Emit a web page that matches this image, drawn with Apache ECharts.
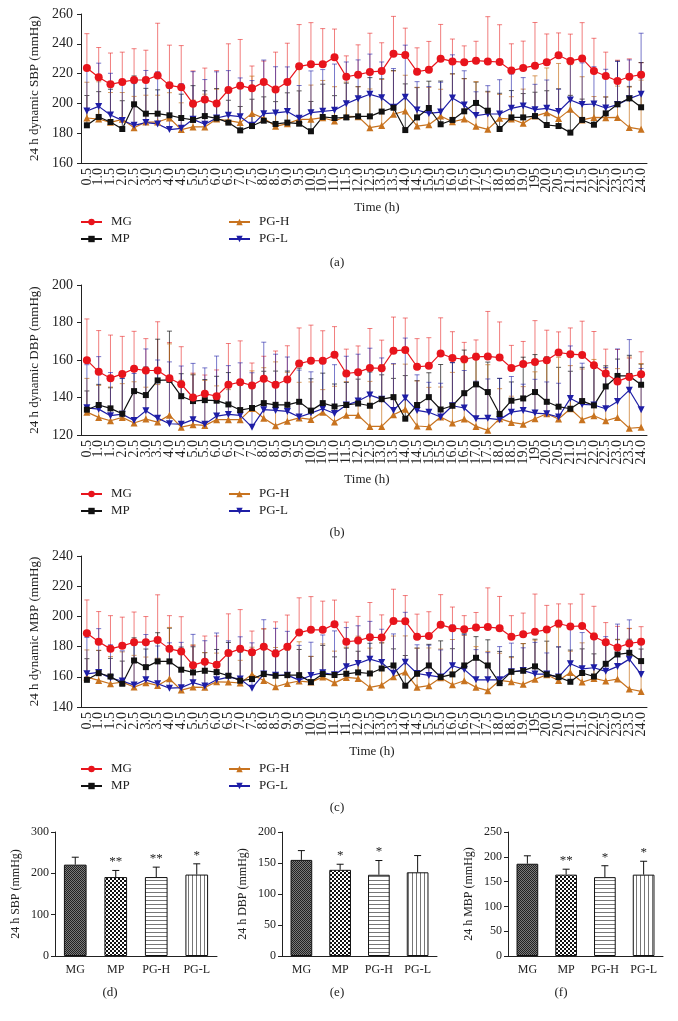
<!DOCTYPE html>
<html><head><meta charset="utf-8">
<script src="https://cdn.jsdelivr.net/npm/echarts@6/dist/echarts.min.js"></script>
<style>html,body{margin:0;padding:0;background:#fff}#c{width:678px;height:1021px}</style>
</head><body><div id="c"></div>
<script>
// ---------- DATA ----------
const times = ['0.5','1.0','1.5','2.0','2.5','3.0','3.5','4.0','4.5','5.0','5.5','6.0','6.5','7.0','7.5','8.0','8.5','9.0','9.5','10.0','10.5','11.0','11.5','12.0','12.5','13.0','13.5','14.0','14.5','15.0','15.5','16.0','16.5','17.0','17.5','18.0','18.5','19.0','195','20.0','20.5','21.0','21.5','22.0','22.5','23.0','23.5','24.0'];
const groups = ['MG','MP','PG-H','PG-L'];

// (a) 24 h dynamic SBP: means and SD
const sbpMG = [223.8,217.5,212.8,214.4,215.7,215.7,218.8,212.1,210.8,199.8,202.7,200,209,211.9,210.1,214.4,209.4,214.4,224.9,226.2,226.2,230.9,217.9,219.3,221.1,221.7,233.4,232.5,221.3,222.6,230,228.2,227.6,228.7,228.2,227.8,222,223.8,225.3,227.6,232.3,228.5,230.2,221.7,218.4,215,217.9,219.3];
const sbpMGsd = [23,20,21,20,21,20,35,27,28,22,21,22,31,31,15,14,25,26,28,28,24,19,14,20,26,19,25,18,16,19,23,15,11,13,30,25,18,18,29,19,15,18,24,22,16,14,12,8];
const sbpMP = [185.3,190.9,187.5,182.8,199.4,193.1,193.1,192,190.2,188.9,191.5,190,187.1,181.9,184.8,188.4,186.2,187.1,186.4,181.3,190.9,190.2,190.6,191.3,191.3,194.5,197.1,182.1,190.6,196.9,186,188.9,194.7,200.3,195.1,182.8,190.6,190.6,191.5,185.5,184.8,180.4,188.9,185.7,193.3,199.4,203.4,197.4];
const sbpMPsd = [20,17,22,19,19,17,16,22,16,23,17,20,15,16,18,16,15,20,22,20,22,15,23,20,26,22,25,31,20,18,29,31,22,14,13,24,18,16,16,23,25,25,14,15,11,29,8,30];
const sbpPGH = [190.2,189.5,187.3,189.3,183.7,187.5,187.5,190.2,182.4,184.2,184.2,189.5,188.4,187.1,193.3,190,184.6,186.4,189.3,189.3,190.4,188.2,191.3,191.1,183.7,185.1,192.7,194.9,184.8,185.7,191.5,187.7,189.5,184.6,182.6,190,189.5,186.6,191.5,193.8,189.8,196,188.9,190.6,190.4,190.6,183.9,182.6];
const sbpPGHsd = [24,25,20,18,21,18,18,17,18,18,22,20,21,27,25,26,25,28,34,23,25,23,23,20,26,31,29,24,26,25,18,32,27,30,25,16,15,23,27,30,37,30,29,14,14,21,27,33];
const sbpPGL = [194.9,198,192.2,188.6,185.3,187.1,186.2,182.4,183.3,189.3,186,190.2,192,191.1,185.3,193.1,193.6,194.5,190,193.8,194.7,195.4,199.8,203.2,206.1,203.8,197.4,204.1,195.6,193.3,194.2,203.6,198.9,191.8,192.9,192.9,196.7,198.3,195.8,196.7,194.5,202.3,199.2,199.6,196.9,199.2,203.2,206.1];
const sbpPGLsd = [30,29,28,26,28,35,35,30,30,32,30,31,30,26,30,36,31,30,22,28,28,31,28,26,27,24,26,35,19,18,20,29,23,16,19,23,23,19,17,19,15,26,28,25,26,29,26,41];

// (b) 24 h dynamic DBP
const dbpMG = [159.9,153.7,150.3,152.6,155.3,154.4,154.4,150.3,147.1,140,142,140.7,146.8,148.2,146.4,150,146.8,149.6,158.1,159.6,159.6,162.8,152.8,153.5,155.8,155.6,164.9,165.4,156.4,156.9,163.5,161.1,160.4,161.7,161.9,161.3,155.8,157.9,159,159.9,164,163.1,162.7,157.2,152.8,148.6,151,152.4];
const dbpMGsd = [22,22,23,20,20,17,26,19,20,13,10,14,22,22,12,12,18,18,19,19,16,15,13,14,21,15,18,17,15,15,19,14,9,9,24,19,12,12,22,16,11,14,18,18,13,17,10,12];
const dbpMP = [133.5,136,134.2,131.3,143.4,141.3,149.1,149.4,140.7,138.1,138.6,138.3,136.3,133.3,134.4,137,136.1,136.1,137.7,133,137,135.2,136,136.8,135.6,139.1,140.2,128.7,136,140.2,133.6,135.6,142.3,147,142.9,131.2,138.3,139.5,142.9,137.7,135.1,134,138.1,135.8,145.9,151.5,151.5,146.8];
const dbpMPsd = [10,11,11,19,13,15,22,26,12,14,11,13,17,16,13,17,18,18,18,17,16,12,12,13,18,13,10,23,13,13,24,23,23,16,16,19,10,22,20,24,21,20,18,22,11,9,11,11];
const dbpPGH = [132.2,129.4,127.6,129.4,126.4,128.5,126.9,130.6,124.2,125.5,125.1,128.2,128.2,128.2,134.2,128.9,125,127.4,129.1,128.3,132.2,127,130.5,130.5,124.6,124.6,130.8,133.8,124.8,124.4,129.6,126.4,128.5,124.6,122.5,128.7,126.7,125.8,128.7,131.3,128.5,134,128.2,130.3,127.6,129.4,123.6,124.1];
const dbpPGHsd = [18,17,18,18,22,17,20,38,25,27,24,18,16,19,20,27,34,26,19,20,12,19,18,24,24,33,27,24,24,21,16,27,30,39,35,16,14,20,25,30,33,23,27,30,28,26,38,34];
const dbpPGL = [134.5,133.8,130.3,131.1,127.8,132.9,129,126,125.8,128.2,125.8,130.1,131,130.5,124.2,133.5,133.1,132.6,129.6,131.7,134,131.5,136,138.1,141.3,139.1,133.1,139.7,133.1,132.1,129.6,135.6,134.4,128.7,128.9,128.2,132.2,133.1,131.7,131.3,129.6,139.5,136.3,136,134,137.9,143.9,133.5];
const dbpPGLsd = [23,28,23,19,25,33,31,33,31,30,30,32,26,28,29,36,30,29,25,22,24,26,26,25,25,22,25,32,19,16,18,23,20,20,21,22,19,14,18,17,18,28,22,21,22,28,27,22];

// (c) 24 h dynamic MBP
const mbpMG = [188.9,183.2,178.5,180.5,182.9,182.9,184.3,178.5,176.8,167.7,170,168,175.7,178.5,176.3,179.9,175.4,179.9,189.3,191.1,191.1,194.8,183.2,184,186.2,186,197,196.8,186.5,187.1,194.4,192.2,191.5,192.6,192.9,192.2,186.5,188.2,189.8,191.3,195.3,193.3,193.7,186.7,182.9,179.4,182.1,183.2];
const mbpMGsd = [22,20,22,19,20,17,30,22,23,13,17,19,26,26,14,12,21,21,23,22,19,16,13,16,23,15,21,17,15,16,20,14,9,10,26,21,14,14,25,16,13,15,21,20,13,14,10,10];
const mbpMP = [158,162.4,160.2,155.4,170.8,166.4,170.2,170.2,164.7,162.9,164,163.1,160.7,157.4,158.5,161.8,160.7,161.1,161.1,156.5,161.8,161.2,162,162.9,162.2,165.5,167.5,154.1,162,167.5,159.8,161.6,167.5,172.6,167.5,155.8,163.3,164,166.9,161.6,159.8,156.7,162.5,160.2,168.6,174.8,175.9,170.4];
const mbpMPsd = [14,15,12,15,15,12,19,22,15,17,12,15,22,19,16,18,17,18,17,17,19,12,17,14,20,17,11,20,17,14,24,17,21,14,17,21,10,18,18,22,20,21,16,15,16,10,9,8];
const mbpPGH = [159.8,157.6,155.4,156.5,153.2,156.1,154.3,158.7,151.2,153.2,153,156.7,156.5,155.9,161.6,157.6,153.4,155.6,157.2,156.5,159.8,156,159.6,158.9,153,154.5,160,163.1,153,154.1,159.4,154.7,157.4,153,150.8,157.6,156.7,155,158.3,161.4,157.6,162.9,156.5,158.9,157.2,158.5,151.9,150.3];
const mbpPGHsd = [18,20,18,20,21,17,18,34,26,28,23,19,18,15,18,34,26,22,26,17,22,21,20,28,26,28,27,24,26,25,19,30,30,27,26,18,16,27,26,28,35,14,26,30,27,26,40,35];
const mbpPGL = [162,162.9,159.2,157.2,154.5,158,155.4,152.5,152.8,156.1,153.9,158,159.8,158.5,152.5,161.8,161.1,161.1,157.8,160.9,162.7,161.4,166.6,168.8,171.7,169.5,162.4,169.7,162.2,160.9,159.8,167.3,164.9,158,158,158,163.3,164.2,161.8,161.8,159.8,168.6,165.3,166,163.6,166.9,171.7,161.6];
const mbpPGLsd = [24,29,22,20,27,30,25,30,30,32,30,31,24,28,30,36,31,29,23,22,25,29,26,25,25,22,26,33,19,20,18,27,23,20,18,22,19,15,21,14,20,25,24,21,23,28,26,23];

// (d)(e)(f) 24 h averages
const barSBP = [221,191,191,197];
const barSBPsd = [18,16,24,26];
const barSBPstars = ['','**','**','*'];
const barDBP = [155,139,131,135];
const barDBPsd = [15,9,23,27];
const barDBPstars = ['','*','*',''];
const barMBP = [186,164,159,164];
const barMBPsd = [16,11,23,27];
const barMBPstars = ['','**','*','*'];

// ---------- STYLE ----------
const FONT = "'Liberation Serif','Times New Roman',serif";
const TXT = '#222';
const COL = {'MG':'#e8141c','MP':'#111111','PG-H':'#c8731f','PG-L':'#1e1ea6'};
const ERRCOL = {'MG':'rgba(232,40,40,0.6)','MP':'rgba(20,20,20,0.7)','PG-H':'rgba(200,115,31,0.7)','PG-L':'rgba(30,30,166,0.6)'};
const SYM = {'MG':['circle',8,0],'MP':['rect',6,0],'PG-H':['triangle',7,0],'PG-L':['triangle',7,180]};

const chart = echarts.init(document.getElementById('c'), null, {renderer:'canvas'});

const grids = [], xAxes = [], yAxes = [], series = [], legends = [];

function errRender(color, hw, starsArr){
  return function(params, api){
    const x = api.value(0), m = api.value(1), s = api.value(2);
    const p0 = api.coord([x, m]);
    const p1 = api.coord([x, m + s]);
    const ch = [
      {type:'line', shape:{x1:p0[0],y1:p0[1],x2:p1[0],y2:p1[1]}, style:{stroke:color,lineWidth:1}},
      {type:'line', shape:{x1:p1[0]-hw,y1:p1[1],x2:p1[0]+hw,y2:p1[1]}, style:{stroke:color,lineWidth:1}}
    ];
    if (starsArr && starsArr[params.dataIndex]) {
      ch.push({type:'text', style:{text:starsArr[params.dataIndex], x:p1[0], y:p1[1]-2, textAlign:'center', textVerticalAlign:'bottom', fontSize:13, fontFamily:FONT, fill:TXT}});
    }
    return {type:'group', children:ch};
  };
}

function addLineChart(gi, top, height, ymin, ymax, yname, means, sds, shiftX, legTop){
  grids.push({left:81, top:top, width:566, height:height, containLabel:false});
  xAxes.push({type:'category', gridIndex:gi, data:times, boundaryGap:true,
    axisLine:{lineStyle:{color:'#222',width:1}},
    axisTick:{alignWithLabel:true, length:4, lineStyle:{color:'#222'}},
    axisLabel:{rotate:90, interval:0, fontSize:14, fontFamily:FONT, color:TXT, margin:5},
    name:'Time (h)', nameLocation:'middle', nameGap:38,
    nameTextStyle:{fontSize:13, fontFamily:FONT, color:TXT, padding:[0,0,0,shiftX]}});
  yAxes.push({type:'value', gridIndex:gi, min:ymin, max:ymax, interval:20,
    axisLine:{show:true, lineStyle:{color:'#222',width:1}},
    axisTick:{show:true, length:4, lineStyle:{color:'#222'}},
    splitLine:{show:false},
    axisLabel:{fontSize:14, fontFamily:FONT, color:TXT, margin:8},
    name:yname, nameLocation:'middle', nameGap:33,
    nameTextStyle:{fontSize:13, fontFamily:FONT, color:TXT}});
  groups.forEach(g => {
    series.push({type:'custom', name:g+' SD', xAxisIndex:gi, yAxisIndex:gi, z:1, silent:true,
      data: means[g].map((m,i)=>[i, m, sds[g][i]]),
      encode:{x:0, y:1}, renderItem: errRender(ERRCOL[g], 2.5)});
  });
  ['PG-H','PG-L','MP','MG'].forEach(g => {
    series.push({type:'line', name:g, xAxisIndex:gi, yAxisIndex:gi, z:3,
      data: means[g], symbol:SYM[g][0], symbolSize:SYM[g][1], symbolRotate:SYM[g][2],
      showAllSymbol:true,
      lineStyle:{width:1.2, color:COL[g]}, itemStyle:{color:COL[g]}});
  });
  const legBase = {orient:'vertical', padding:0, itemWidth:21, itemHeight:8, itemGap:3,
    textStyle:{fontSize:13, fontFamily:FONT, color:TXT, lineHeight:14, padding:[0,0,0,4]}};
  legends.push(Object.assign({}, legBase, {data:['MG','MP'], left:80, top:legTop}));
  legends.push(Object.assign({}, legBase, {data:['PG-H','PG-L'], left:228, top:legTop}));
}

addLineChart(0, 14, 149, 160, 260, '24 h dynamic SBP (mmHg)',
  {'MG':sbpMG,'MP':sbpMP,'PG-H':sbpPGH,'PG-L':sbpPGL},
  {'MG':sbpMGsd,'MP':sbpMPsd,'PG-H':sbpPGHsd,'PG-L':sbpPGLsd}, 26, 215);
addLineChart(1, 285, 150, 120, 200, '24 h dynamic DBP (mmHg)',
  {'MG':dbpMG,'MP':dbpMP,'PG-H':dbpPGH,'PG-L':dbpPGL},
  {'MG':dbpMGsd,'MP':dbpMPsd,'PG-H':dbpPGHsd,'PG-L':dbpPGLsd}, 6, 487);
addLineChart(2, 556, 151, 140, 240, '24 h dynamic MBP (mmHg)',
  {'MG':mbpMG,'MP':mbpMP,'PG-H':mbpPGH,'PG-L':mbpPGL},
  {'MG':mbpMGsd,'MP':mbpMPsd,'PG-H':mbpPGHsd,'PG-L':mbpPGLsd}, 16, 762);

// patterns for bars
function pattern(kind){
  const c = document.createElement('canvas');
  const ctx = c.getContext('2d');
  if (kind === 'MG') {
    c.width = 2; c.height = 2;
    ctx.fillStyle = '#7a7a7a'; ctx.fillRect(0,0,2,2);
    ctx.fillStyle = '#222222'; ctx.fillRect(0,0,1,1); ctx.fillRect(1,1,1,1);
  } else if (kind === 'MP') {
    c.width = 4; c.height = 4;
    ctx.fillStyle = '#ffffff'; ctx.fillRect(0,0,4,4);
    ctx.fillStyle = '#111111'; ctx.fillRect(0,0,2,2); ctx.fillRect(2,2,2,2);
  } else if (kind === 'PG-H') {
    c.width = 4; c.height = 4;
    ctx.fillStyle = '#ffffff'; ctx.fillRect(0,0,4,4);
    ctx.fillStyle = '#777777'; ctx.fillRect(0,0,4,1);
  } else {
    c.width = 4; c.height = 4;
    ctx.fillStyle = '#ffffff'; ctx.fillRect(0,0,4,4);
    ctx.fillStyle = '#777777'; ctx.fillRect(0,0,1,4);
  }
  return {image:c, repeat:'repeat'};
}
const PAT = {};
groups.forEach(g => PAT[g] = pattern(g));

function addBarChart(gi, left, width, ymax, interval, yname, vals, sds, stars){
  grids.push({left:left, top:832, width:width, height:124, containLabel:false});
  xAxes.push({type:'category', gridIndex:gi, data:groups,
    axisLine:{lineStyle:{color:'#222',width:1}}, axisTick:{show:false},
    axisLabel:{fontSize:12, fontFamily:FONT, color:TXT, margin:8, interval:0}});
  yAxes.push({type:'value', gridIndex:gi, min:0, max:ymax, interval:interval,
    axisLine:{show:true, lineStyle:{color:'#222',width:1}},
    axisTick:{show:true, length:4, lineStyle:{color:'#222'}},
    splitLine:{show:false},
    axisLabel:{fontSize:12, fontFamily:FONT, color:TXT, margin:6},
    name:yname, nameLocation:'middle', nameGap:33,
    nameTextStyle:{fontSize:12, fontFamily:FONT, color:TXT}});
  series.push({type:'bar', name:'bar'+gi, xAxisIndex:gi, yAxisIndex:gi, barWidth:'56%', z:2,
    data: vals.map((v,i)=>({value:v, itemStyle:{color:PAT[groups[i]], borderColor:'#111', borderWidth:1}}))});
  series.push({type:'custom', name:'err'+gi, xAxisIndex:gi, yAxisIndex:gi, z:3, silent:true,
    data: vals.map((v,i)=>[i, v, sds[i]]), encode:{x:0,y:1},
    renderItem: errRender('#111', 3.5, stars)});
}
addBarChart(3, 55, 162, 300, 100, '24 h SBP (mmHg)', barSBP, barSBPsd, barSBPstars);
addBarChart(4, 282, 155, 200, 50, '24 h DBP (mmHg)', barDBP, barDBPsd, barDBPstars);
addBarChart(5, 508, 155, 250, 50, '24 h MBP (mmHg)', barMBP, barMBPsd, barMBPstars);

const panelLabels = [['(a)',337,263],['(b)',337,533],['(c)',337,808],['(d)',110,993],['(e)',337,993],['(f)',561,993]];

chart.setOption({
  animation:false,
  backgroundColor:'#ffffff',
  textStyle:{fontFamily:FONT},
  grid:grids, xAxis:xAxes, yAxis:yAxes, series:series, legend:legends,
  graphic: panelLabels.map(p => ({type:'text', x:p[1], y:p[2],
    style:{text:p[0], textAlign:'center', textVerticalAlign:'middle', fontSize:13, fontFamily:FONT, fill:TXT}}))
});
</script></body></html>
